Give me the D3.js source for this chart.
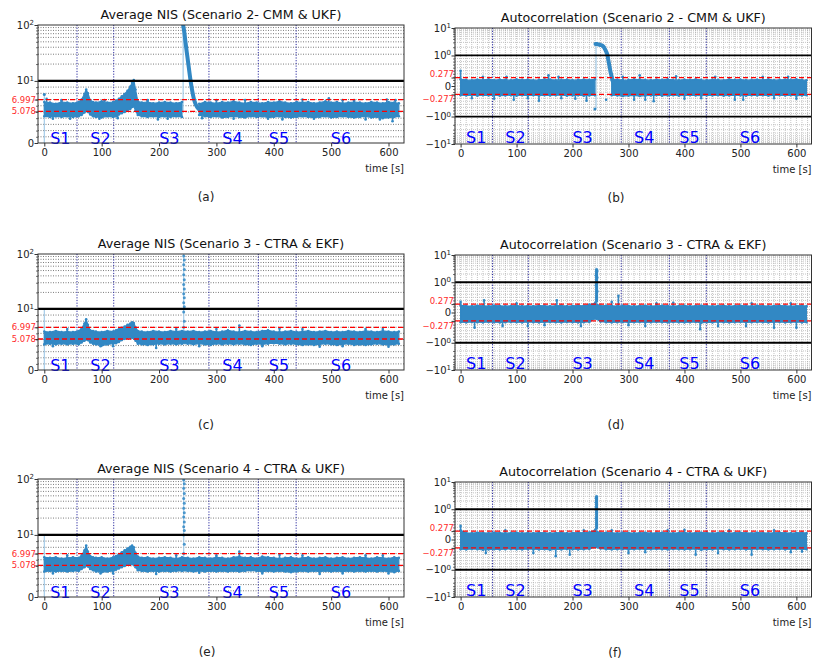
<!DOCTYPE html>
<html><head><meta charset="utf-8">
<script src="https://cdn.jsdelivr.net/npm/d3@7"></script>
<style>body{margin:0;background:#fff} text{font-family:"DejaVu Sans",sans-serif}</style>
</head><body><svg id="c" width="813" height="666"></svg>
<script>
// ---------------- DATA ----------------
const xTicks = [0,100,200,300,400,500,600];
const segBounds = [57,121,287,373,439];
const segNames = ["S1","S2","S3","S4","S5","S6"];
const segLabelT = [28,98,218,328,409,517];
const nisChi = [5.078, 6.997];
const acBound = [0.277, -0.277];

const titles = ["Average NIS (Scenario 2- CMM & UKF)","Autocorrelation (Scenario 2 - CMM & UKF)",
  "Average NIS (Scenario 3 - CTRA & EKF)","Autocorrelation (Scenario 3 - CTRA & EKF)",
  "Average NIS (Scenario 4 - CTRA & UKF)","Autocorrelation (Scenario 4 - CTRA & UKF)"];
const captions = ["(a)","(b)","(c)","(d)","(e)","(f)"];

const nisT = [0,10,20,30,40,50,60,65,70,73,76,80,85,90,100,110,120,125,130,135,140,145,150,153,156,159,163,170,180,190,200,210,220,230,240,
  250,260,270,280,290,300,310,320,330,340,350,360,370,380,390,400,410,420,430,440,450,460,470,480,490,500,510,520,530,540,550,560,570,580,590,600,610,618];
const acT = [0,10,20,30,40,50,60,70,80,90,100,110,120,130,140,150,160,170,180,190,200,210,220,230,240,
  250,260,270,280,290,300,310,320,330,340,350,360,370,380,390,400,410,420,430,440,450,460,470,480,490,500,510,520,530,540,550,560,570,580,590,600,610,618];

// Panel (a) NIS scenario 2
const aHi = [6.6,6.5,6.3,6.6,6.5,6.4,6.6,7.0,7.9,8.6,8.0,6.9,6.6,6.5,6.7,6.5,6.6,6.8,7.1,7.5,7.9,8.4,9.1,9.7,10.4,8.6,6.7,6.5,6.6,6.4,6.5,6.6,6.5,6.4,6.6,
  null,null,6.3,6.6,6.5,6.4,6.6,6.5,6.7,6.5,6.4,6.6,6.5,6.4,6.6,6.5,6.7,6.5,6.4,6.6,6.5,6.6,6.4,6.5,6.7,6.5,6.6,6.4,6.5,6.6,6.5,6.4,6.6,6.5,6.4,6.6,6.5,6.4];
const aLo = [4.3,4.2,4.3,4.2,4.3,4.2,4.3,4.5,4.9,5.2,5.0,4.6,4.3,4.2,4.1,4.3,4.2,4.3,4.6,4.8,5.0,5.2,5.5,5.8,5.9,5.2,4.5,4.3,4.2,4.3,4.2,4.3,4.2,4.3,4.2,
  null,null,4.5,4.3,4.2,4.3,4.1,4.2,4.3,4.2,4.1,4.3,4.2,4.3,4.1,4.2,4.3,4.2,4.1,4.2,4.3,4.2,4.1,4.2,4.3,4.1,4.2,4.3,4.2,4.1,4.2,4.3,4.1,4.2,4.0,4.1,4.2,4.3];
const aDecT = [242,244,246,249,252,255,258,261,264,267,270];
const aDecV = [100,75,50,29,17,10,8.3,7.0,6.2,5.7,5.4];
const aOutT = [4,96,128,198,275,330,415,496,560,597,607,30,180,350,450,520,15,45,105,215,300,390,470,540,585,612];
const aOutV = [7.1,3.9,4.0,3.8,4.0,3.9,3.8,7.2,3.8,7.0,3.5,6.9,6.9,6.9,7.0,6.9,3.9,3.9,6.9,3.9,6.9,3.9,3.9,6.9,3.8,6.9];
const aLineT = [0,242]; const aLineFrom = [0,5]; const aLineTo = [7.8,100];

// Panel (c) NIS scenario 3
const cHi = [6.3,6.2,6.4,6.2,6.3,6.2,6.4,6.8,7.6,8.3,7.4,6.5,6.4,6.3,6.2,6.4,6.3,6.5,6.7,6.9,7.1,7.4,7.6,7.8,7.7,7.0,6.4,6.3,6.2,6.4,6.3,6.2,6.4,6.3,6.4,
  6.3,6.4,6.2,6.3,6.4,6.2,6.3,6.5,6.3,6.2,6.4,6.3,6.2,6.4,6.5,6.3,6.2,6.3,6.4,6.2,6.3,6.4,6.2,6.3,6.4,6.2,6.3,6.2,6.4,6.3,6.2,6.4,6.3,6.2,6.4,6.3,6.2,6.3];
const cLo = [4.2,4.3,4.2,4.3,4.2,4.3,4.2,4.5,4.8,5.0,4.9,4.5,4.3,4.2,4.0,4.2,4.3,4.4,4.6,4.9,5.1,5.3,5.3,5.3,5.2,4.8,4.3,4.2,4.1,4.2,4.3,4.2,4.3,4.2,4.3,
  4.3,4.2,4.3,4.2,4.1,4.3,4.2,4.3,4.2,4.3,4.2,4.1,4.3,4.2,4.3,4.4,4.3,4.2,4.3,4.2,4.1,4.2,4.1,4.2,4.3,4.2,4.1,4.2,4.3,4.1,4.2,4.1,4.2,4.3,4.2,4.1,4.2,4.3];
const cSpikeT = [243,244,243,244,243,244,243,244,243,244,243,244,243,244,243];
const cSpikeV = [7,8,9.5,11,13,16,19,23,28,34,42,52,64,78,92];
const cOutT = [98,195,270,340,480,600,40,230,410,560,15,120,300,380,450,520,590];
const cOutV = [3.9,3.6,3.9,7.3,3.8,3.8,6.7,6.7,6.8,6.7,3.9,3.9,6.7,3.9,6.7,3.9,6.7];
const cLineT = [0,243]; const cLineFrom = [0,6]; const cLineTo = [10,100];

// Panel (e) NIS scenario 4
const eHi = [6.4,6.3,6.4,6.2,6.3,6.4,6.3,6.7,7.5,8.3,7.3,6.6,6.4,6.3,6.4,6.2,6.4,6.6,6.9,7.2,7.5,7.8,8.1,8.3,8.0,7.1,6.5,6.3,6.4,6.2,6.3,6.4,6.3,6.2,6.4,
  6.3,6.2,6.4,6.3,6.2,6.4,6.3,6.2,6.4,6.5,6.3,6.4,6.2,6.5,6.4,6.3,6.2,6.3,6.4,6.2,6.3,6.4,6.2,6.3,6.4,6.2,6.3,6.4,6.2,6.3,6.4,6.3,6.2,6.4,6.3,6.2,6.4,6.3];
const eLo = [4.1,4.2,4.1,4.2,4.1,4.2,4.2,4.5,4.8,5.1,4.9,4.5,4.3,4.1,4.0,4.1,4.2,4.4,4.6,4.8,5.0,5.2,5.3,5.3,5.2,4.8,4.3,4.2,4.1,4.2,4.1,4.2,4.1,4.2,4.2,
  4.2,4.1,4.2,4.1,4.2,4.1,4.2,4.1,4.2,4.1,4.2,4.3,4.2,4.1,4.2,4.1,4.2,4.1,4.0,4.1,4.2,4.1,4.2,4.1,4.2,4.1,4.2,4.1,4.2,4.1,4.2,4.1,4.2,4.1,4.2,4.1,4.0,4.2];
const eSpikeT = [243,244,243,244,243,244,243,244,243,244,243,244,243,244,243];
const eSpikeV = [7,8.5,10,12,14,17,21,25,30,37,45,55,68,82,96];
const eOutT = [98,195,270,340,480,600,40,230,410,560,15,120,300,380,450,520,590];
const eOutV = [3.8,3.7,3.9,7.3,3.7,3.8,6.7,6.7,6.8,6.7,3.8,3.8,6.7,3.8,6.7,3.8,6.7];
const eLineT = [0,243]; const eLineFrom = [0,6]; const eLineTo = [10,100];

// Panel (b) autocorrelation scenario 2
const bHi = [0.22,0.2,0.19,0.21,0.2,0.22,0.19,0.21,0.2,0.19,0.22,0.2,0.21,0.19,0.2,0.22,0.21,0.19,0.2,0.21,0.19,0.2,0.21,0.2,0.22,
  null,null,0.2,0.21,0.19,0.2,0.22,0.21,0.2,0.19,0.21,0.2,0.22,0.2,0.19,0.21,0.2,0.22,0.2,0.19,0.21,0.2,0.19,0.22,0.2,0.21,0.19,0.2,0.21,0.2,0.22,0.19,0.2,0.21,0.2,0.22,0.2,0.19];
const bLo = [-0.3,-0.31,-0.3,-0.32,-0.3,-0.31,-0.3,-0.32,-0.31,-0.3,-0.32,-0.3,-0.31,-0.3,-0.32,-0.3,-0.31,-0.3,-0.3,-0.32,-0.31,-0.3,-0.32,-0.31,-0.3,
  null,null,-0.3,-0.31,-0.33,-0.32,-0.31,-0.33,-0.32,-0.31,-0.3,-0.32,-0.31,-0.3,-0.32,-0.31,-0.3,-0.31,-0.32,-0.3,-0.31,-0.3,-0.32,-0.31,-0.3,-0.31,-0.32,-0.3,-0.31,-0.3,-0.32,-0.31,-0.3,-0.31,-0.3,-0.32,-0.31,-0.3];
const bDecT = [241,244,247,250,253,256,258,260,262,264,266,268,270,272];
const bDecV = [2.6,2.6,2.5,2.4,2.3,2.0,1.7,1.4,1.1,0.85,0.65,0.45,0.3,0.15];
const bOutT = [0,40,82,157,175,290,320,385,455,540,585,60,95,140,205,225,310,330,345,490,505,600,20,120,180,260,400,430,560];
const bOutV = [0.5,0.3,0.3,0.35,0.3,0.3,0.35,0.32,0.3,0.3,0.3,-0.42,-0.45,-0.48,-0.42,-0.48,-0.45,-0.45,-0.5,-0.45,-0.45,-0.42,-0.4,-0.4,-0.4,-0.45,-0.42,-0.4,-0.4];
const bPtT = [240]; const bPtV = [-0.75];
const bLineT = [242]; const bLineFrom = [-0.75]; const bLineTo = [2.5];

// Panel (d) autocorrelation scenario 3
const dHi = [0.24,0.22,0.21,0.23,0.22,0.21,0.23,0.22,0.21,0.22,0.23,0.21,0.22,0.21,0.23,0.22,0.21,0.22,0.23,0.21,0.22,0.23,0.22,0.26,0.3,
  0.22,0.23,0.22,0.21,0.23,0.22,0.21,0.22,0.23,0.21,0.22,0.23,0.22,0.21,0.22,0.23,0.21,0.22,0.23,0.22,0.21,0.22,0.23,0.21,0.22,0.23,0.22,0.21,0.23,0.22,0.21,0.22,0.23,0.22,0.21,0.22,0.23,0.21];
const dLo = [-0.32,-0.33,-0.31,-0.32,-0.33,-0.31,-0.32,-0.33,-0.32,-0.31,-0.32,-0.33,-0.31,-0.32,-0.33,-0.32,-0.31,-0.32,-0.33,-0.31,-0.32,-0.33,-0.32,-0.31,-0.2,
  -0.3,-0.32,-0.33,-0.32,-0.31,-0.33,-0.32,-0.31,-0.33,-0.32,-0.31,-0.32,-0.33,-0.31,-0.32,-0.33,-0.32,-0.31,-0.34,-0.32,-0.33,-0.31,-0.32,-0.33,-0.32,-0.31,-0.33,-0.32,-0.31,-0.32,-0.33,-0.32,-0.31,-0.33,-0.32,-0.31,-0.33,-0.32];
const dSpikeT = [242,243,244,242,243,244,242,243,244,243];
const dSpikeV = [0.35,0.5,0.7,0.9,1.2,1.5,1.8,2.2,2.6,3.0];
const dOutT = [0,42,75,172,270,282,428,25,600,215,330,120,510,560,380,150,300,460,520,590,100,350];
const dOutV = [0.35,0.4,-0.45,0.4,0.35,0.55,-0.55,-0.5,-0.5,-0.45,-0.45,-0.45,-0.45,-0.5,0.32,-0.42,-0.42,-0.45,0.3,0.3,0.3,0.3];
const dPtT = []; const dPtV = [];
const dLineT = [243]; const dLineFrom = [0.3]; const dLineTo = [3.0];

// Panel (f) autocorrelation scenario 4
const fHi = [0.3,0.22,0.21,0.23,0.22,0.21,0.23,0.22,0.21,0.22,0.23,0.21,0.22,0.21,0.23,0.22,0.21,0.22,0.23,0.21,0.22,0.23,0.22,0.24,0.3,
  0.22,0.23,0.22,0.21,0.23,0.22,0.21,0.22,0.23,0.21,0.22,0.23,0.22,0.21,0.22,0.23,0.21,0.22,0.23,0.22,0.21,0.22,0.23,0.21,0.22,0.23,0.22,0.21,0.23,0.22,0.21,0.22,0.23,0.22,0.21,0.22,0.23,0.21];
const fLo = [-0.32,-0.33,-0.31,-0.32,-0.34,-0.33,-0.32,-0.33,-0.32,-0.31,-0.32,-0.33,-0.31,-0.32,-0.33,-0.32,-0.34,-0.32,-0.33,-0.31,-0.32,-0.33,-0.32,-0.31,-0.25,
  -0.3,-0.32,-0.33,-0.32,-0.31,-0.33,-0.32,-0.31,-0.33,-0.32,-0.31,-0.32,-0.33,-0.31,-0.32,-0.33,-0.32,-0.31,-0.34,-0.32,-0.33,-0.31,-0.32,-0.33,-0.32,-0.31,-0.33,-0.32,-0.31,-0.32,-0.33,-0.32,-0.31,-0.33,-0.32,-0.31,-0.33,-0.32];
const fSpikeT = [242,243,242,243,242,243,242,243,242,243];
const fSpikeV = [0.35,0.5,0.7,0.9,1.2,1.5,1.8,2.2,2.6,3.0];
const fOutT = [0,170,195,270,370,420,520,560,45,130,300,460,590,80,220,330,400,480,610];
const fOutV = [0.45,-0.55,-0.5,0.3,0.3,-0.5,-0.5,0.3,-0.45,-0.45,-0.45,-0.45,-0.42,0.3,0.3,-0.42,0.32,0.3,-0.4];
const fPtT = []; const fPtV = [];
const fLineT = [243]; const fLineFrom = [0.3]; const fLineTo = [3.0];

// ---------------- DRAW ----------------
const svg = d3.select("#c");
const BLUE = "#3288c4", LIGHT = "#a3cbe8";

function symlog(lin){ const a = 1/(1-1/10);
  return v => { const s = Math.sign(v), x = Math.abs(v);
    return x <= lin ? v*a : s*lin*(a + Math.log10(x/lin)); }; }

const panels = [
 {kind:"nis", box:[38,25,404,143], hi:aHi, lo:aLo, decT:aDecT, decV:aDecV, outT:aOutT, outV:aOutV, ptT:[0], ptV:[7.8], spT:[], spV:[], lT:aLineT, lF:aLineFrom, lTo:aLineTo, capX:206, capY:201},
 {kind:"ac", box:[455,28,811.5,144], hi:bHi, lo:bLo, decT:bDecT, decV:bDecV, outT:bOutT, outV:bOutV, ptT:bPtT, ptV:bPtV, spT:[], spV:[], lT:bLineT, lF:bLineFrom, lTo:bLineTo, capX:616, capY:202},
 {kind:"nis", box:[38,254,404,370], hi:cHi, lo:cLo, decT:[], decV:[], outT:cOutT, outV:cOutV, ptT:[], ptV:[], spT:cSpikeT, spV:cSpikeV, lT:cLineT, lF:cLineFrom, lTo:cLineTo, capX:206, capY:429},
 {kind:"ac", box:[455,255,811.5,370], hi:dHi, lo:dLo, decT:[], decV:[], outT:dOutT, outV:dOutV, ptT:dPtT, ptV:dPtV, spT:dSpikeT, spV:dSpikeV, lT:dLineT, lF:dLineFrom, lTo:dLineTo, capX:616, capY:429},
 {kind:"nis", box:[38,479,404,597], hi:eHi, lo:eLo, decT:[], decV:[], outT:eOutT, outV:eOutV, ptT:[], ptV:[], spT:eSpikeT, spV:eSpikeV, lT:eLineT, lF:eLineFrom, lTo:eLineTo, capX:207, capY:656},
 {kind:"ac", box:[455,482,811.5,597], hi:fHi, lo:fLo, decT:[], decV:[], outT:fOutT, outV:fOutV, ptT:fPtT, ptV:fPtV, spT:fSpikeT, spV:fSpikeV, lT:fLineT, lF:fLineFrom, lTo:fLineTo, capX:615, capY:657}
];

panels.forEach((p,i) => {
  const [x0,y0,x1,y1] = p.box;
  const nis = p.kind === "nis";
  const T = nis ? nisT : acT;
  const lin = nis ? 10 : 1;
  const tf = symlog(lin);
  const x = d3.scaleLinear().domain(nis ? [-11,627] : [-10,627]).range([x0,x1]);
  const ys = d3.scaleLinear().domain(nis ? [tf(0),tf(100)] : [tf(-10),tf(10)]).range([y1,y0]);
  const y = v => ys(tf(v));
  const g = svg.append("g");
  const clipId = "clip"+i;
  g.append("clipPath").attr("id",clipId).append("rect").attr("x",x0).attr("y",y0).attr("width",x1-x0).attr("height",y1-y0);

  // grid
  let minors;
  if (nis) minors = [1,2,3,4,5,6,7,8,9,20,30,40,50,60,70,80,90];
  else { minors = []; [0.1,0.2,0.3,0.4,0.5,0.6,0.7,0.8,0.9,2,3,4,5,6,7,8,9].forEach(v=>{minors.push(v,-v);}); }
  const grid = g.append("g");
  if (!nis) {
    const vx = []; for (let t=-10; t<=620; t+=10) vx.push(t);
    grid.selectAll(".vg").data(vx).join("line").attr("x1",d=>x(d)).attr("x2",d=>x(d)).attr("y1",y0).attr("y2",y1)
      .attr("stroke","#aaa").attr("stroke-width",0.7).attr("stroke-dasharray","1,1");
    grid.selectAll(".hg").data(minors.concat([0])).join("line").attr("x1",x0).attr("x2",x1).attr("y1",d=>y(d)).attr("y2",d=>y(d))
      .attr("stroke","#aaa").attr("stroke-width",0.7).attr("stroke-dasharray","1,1");
  } else {
    grid.selectAll(".hg").data(minors).join("line").attr("x1",x0).attr("x2",x1).attr("y1",d=>y(d)).attr("y2",d=>y(d))
      .attr("stroke","#444").attr("stroke-width",0.7).attr("stroke-dasharray","1,1.5");
  }
  // segment boundaries
  g.selectAll(".sb").data(segBounds).join("line").attr("x1",d=>x(d)).attr("x2",d=>x(d)).attr("y1",y0).attr("y2",y1)
    .attr("stroke","#2a2aa0").attr("stroke-width",1).attr("stroke-dasharray","1.2,1.5");

  const data = g.append("g").attr("clip-path",`url(#${clipId})`);
  // light lines
  data.selectAll(".ll").data(p.lT.map((t,k)=>[t,p.lF[k],p.lTo[k]])).join("line")
    .attr("x1",d=>x(d[0])).attr("x2",d=>x(d[0])).attr("y1",d=>y(d[1])).attr("y2",d=>y(d[2]))
    .attr("stroke",LIGHT).attr("stroke-width",1.2);
  // band
  const rows = T.map((t,k)=>({t, hi:p.hi[k], lo:p.lo[k]}));
  const area = d3.area().defined(d=>d.hi!=null).x(d=>x(d.t)).y0(d=>y(d.lo)).y1(d=>y(d.hi));
  data.append("path").attr("d",area(rows)).attr("fill",BLUE).attr("stroke",BLUE).attr("stroke-width",1.2).attr("stroke-linejoin","round");
  data.selectAll(".ep").data(rows.filter(d=>d.hi!=null)).join("circle").attr("cx",d=>x(d.t)).attr("cy",d=>y(d.hi)).attr("r",1.3).attr("fill",BLUE);
  data.selectAll(".ep2").data(rows.filter(d=>d.lo!=null)).join("circle").attr("cx",d=>x(d.t)).attr("cy",d=>y(d.lo)).attr("r",1.3).attr("fill",BLUE);
  // band edge interpolation for outlier spikes
  const bis = d3.bisector(d=>d).right;
  function edge(arr, t) {
    let k = Math.max(0, Math.min(T.length-2, bis(T,t)-1));
    const a = arr[k], b = arr[k+1];
    if (a == null || b == null) return null;
    const f = (t - T[k])/(T[k+1]-T[k]);
    return a + (b-a)*Math.max(0,Math.min(1,f));
  }
  const outs = p.outT.map((t,k)=>{
    const v = p.outV[k], h = edge(p.hi,t), l = edge(p.lo,t);
    let e = null; if (h!=null && l!=null) e = (v > (h+l)/2) ? h : l;
    return {t, v, e};
  });
  data.selectAll(".os").data(outs.filter(d=>d.e!=null)).join("line")
    .attr("x1",d=>x(d.t)).attr("x2",d=>x(d.t)).attr("y1",d=>y(d.e)).attr("y2",d=>y(d.v))
    .attr("stroke",BLUE).attr("stroke-width",1.6);
  data.selectAll(".op").data(outs).join("circle")
    .attr("cx",d=>x(d.t)).attr("cy",d=>y(d.v)).attr("r",1.3).attr("fill",BLUE);
  data.selectAll(".pp").data(p.ptT.map((t,k)=>[t,p.ptV[k]])).join("circle")
    .attr("cx",d=>x(d[0])).attr("cy",d=>y(d[1])).attr("r",1.5).attr("fill",BLUE);
  // decay curve
  if (p.decT.length) {
    const dec = p.decT.map((t,k)=>[t,p.decV[k]]);
    data.append("path").attr("d", d3.line().x(d=>x(d[0])).y(d=>y(d[1])).curve(d3.curveMonotoneX)(dec))
      .attr("fill","none").attr("stroke",BLUE).attr("stroke-width",4).attr("stroke-linecap","round").attr("stroke-linejoin","round");
  }
  // spike points
  if (!nis && p.spT.length) {
    const sv = p.spV;
    data.append("line").attr("x1",x(243)).attr("x2",x(243)).attr("y1",y(d3.min(sv))).attr("y2",y(d3.max(sv)))
      .attr("stroke",BLUE).attr("stroke-width",3);
  }
  data.selectAll(".sp").data(p.spT.map((t,k)=>[t,p.spV[k]])).join("circle")
    .attr("cx",d=>x(d[0])).attr("cy",d=>y(d[1])).attr("r",1.5).attr("fill",BLUE).attr("opacity",0.85);

  // reference lines
  const refs = nis ? nisChi : acBound;
  g.selectAll(".rl").data(refs).join("line").attr("x1",x0).attr("x2",x1).attr("y1",d=>y(d)).attr("y2",d=>y(d))
    .attr("stroke","#ff0000").attr("stroke-width",1.3).attr("stroke-dasharray","5,3");
  const blk = nis ? [10] : [1,-1];
  g.selectAll(".bl").data(blk).join("line").attr("x1",x0).attr("x2",x1).attr("y1",d=>y(d)).attr("y2",d=>y(d))
    .attr("stroke","#000").attr("stroke-width",nis?2.2:1.8);

  // segment labels
  g.selectAll(".sl").data(segNames).join("text").attr("x",(d,k)=>x(segLabelT[k])).attr("y",nis? y1+0.5 : y1-1.5)
    .attr("text-anchor","middle").attr("font-size",16).attr("fill","#0000ff").text(d=>d);

  // frame
  g.append("rect").attr("x",x0).attr("y",y0).attr("width",x1-x0).attr("height",y1-y0)
    .attr("fill","none").attr("stroke","#333").attr("stroke-width",1);

  // x axis
  const xa = g.append("g").attr("transform",`translate(0,${y1})`)
    .call(d3.axisBottom(x).tickValues(xTicks).tickSize(3.5).tickPadding(2.5).tickFormat(d3.format("d")));
  xa.select(".domain").remove();
  xa.selectAll("line").attr("stroke","#333");
  xa.selectAll("text").attr("font-size",10).attr("fill","#222").attr("font-family","DejaVu Sans");
  g.append("text").attr("x",x1).attr("y",y1+29).attr("text-anchor","end").attr("font-size",10).attr("fill","#222").text("time [s]");

  // y axis ticks
  const majors = nis ? [0,10,100] : [-10,-1,0,1,10];
  const ya = g.append("g").attr("transform",`translate(${x0},0)`)
    .call(d3.axisLeft(ys).tickValues(majors.concat(refs).map(tf)).tickSize(3.5).tickFormat(()=>""));
  ya.select(".domain").remove(); ya.selectAll("line").attr("stroke","#333");
  const ym = g.append("g").attr("transform",`translate(${x0},0)`)
    .call(d3.axisLeft(ys).tickValues(minors.map(tf)).tickSize(2).tickFormat(()=>""));
  ym.select(".domain").remove(); ym.selectAll("line").attr("stroke","#333").attr("stroke-width",0.7);

  // y labels
  majors.forEach(v => {
    const t = g.append("text").attr("x",x0-4).attr("y",y(v)).attr("dy","0.35em").attr("text-anchor","end")
      .attr("font-size",10).attr("fill","#222");
    if (v === 0) { t.text("0"); return; }
    const exp = Math.round(Math.log10(Math.abs(v)));
    t.append("tspan").text((v<0?"\u2212":"")+"10");
    t.append("tspan").attr("dy","-0.5em").attr("font-size",7).text(exp);
  });
  refs.forEach(v => {
    const yy = nis ? y(v) + 3 : (v > 0 ? y(v) - 0.5 : y(v) + 8);
    g.append("text").attr("x", nis ? x0-2 : x0-1).attr("y",yy).attr("text-anchor","end")
      .attr("font-size",8.5).attr("fill","#ff2a2a").text((v<0?"\u2212":"")+Math.abs(v).toFixed(3));
  });

  // title & caption
  svg.append("text").attr("x",(x0+x1)/2).attr("y",y0-6.5).attr("text-anchor","middle").attr("font-size",12.7)
    .attr("fill","#111").text(titles[i]);
  svg.append("text").attr("x",p.capX).attr("y",p.capY).attr("text-anchor","middle").attr("font-size",12)
    .attr("fill","#222").text(captions[i]);
});
</script>
</body></html>
